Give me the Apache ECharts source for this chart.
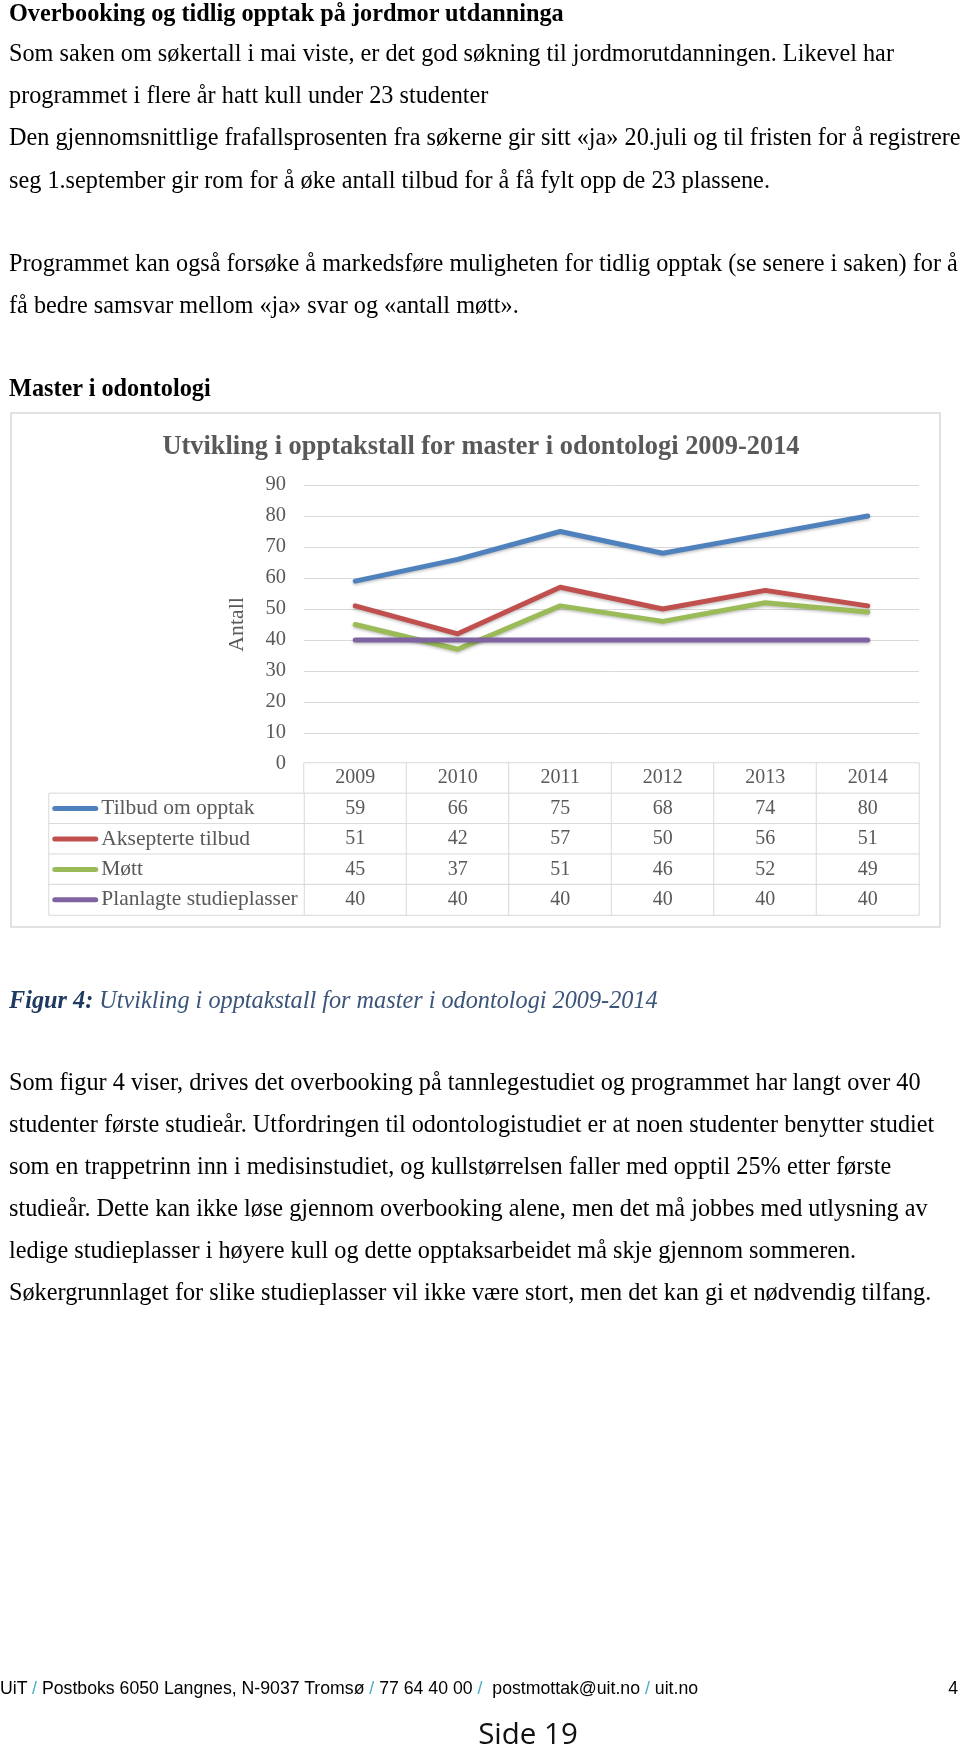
<!DOCTYPE html>
<html><head><meta charset="utf-8">
<script src="https://cdn.jsdelivr.net/npm/echarts@6/dist/echarts.min.js"></script>
<style>
html,body{margin:0;padding:0;background:#fff;}
#page{position:relative;width:960px;height:1747px;overflow:hidden;background:#fff;}
#chart{position:absolute;left:0;top:0;width:960px;height:1747px;}
.t{position:absolute;left:9px;white-space:nowrap;font-family:"Liberation Serif","Times New Roman",serif;font-size:24.25px;color:#000;line-height:28px;}
.b{font-weight:bold;}
.cap{font-style:italic;color:#3b5479;}
.cap b{color:#1f3a60;}
.foot{position:absolute;left:0;top:1677px;white-space:nowrap;font-family:"Liberation Sans",Arial,sans-serif;font-size:17.7px;color:#000;line-height:22px;}
.foot .s{color:#4bacc6;}
.pg{position:absolute;right:2px;top:1677px;font-family:"Liberation Sans",Arial,sans-serif;font-size:17.7px;line-height:22px;}
.side{position:absolute;left:0;width:1056px;text-align:center;top:1715px;font-family:"Open Sans",sans-serif;font-size:29.5px;line-height:36px;color:#111;}
</style></head>
<body><div id="page"><div id="chart"></div>
<div class="t b" style="top:-1px">Overbooking og tidlig opptak på jordmor utdanninga</div>
<div class="t" style="top:39px">Som saken om søkertall i mai viste, er det god søkning til jordmorutdanningen. Likevel har</div>
<div class="t" style="top:81px">programmet i flere år hatt kull under 23 studenter</div>
<div class="t" style="top:123px">Den gjennomsnittlige frafallsprosenten fra søkerne gir sitt «ja» 20.juli og til fristen for å registrere</div>
<div class="t" style="top:166px">seg 1.september gir rom for å øke antall tilbud for å få fylt opp de 23 plassene.</div>
<div class="t" style="top:249px">Programmet kan også forsøke å markedsføre muligheten for tidlig opptak (se senere i saken) for å</div>
<div class="t" style="top:291px">få bedre samsvar mellom «ja» svar og «antall møtt».</div>
<div class="t b" style="top:374px">Master i odontologi</div>
<div class="t cap" style="top:986px"><b>Figur 4:</b> Utvikling i opptakstall for master i odontologi 2009-2014</div>
<div class="t" style="top:1068px">Som figur 4 viser, drives det overbooking på tannlegestudiet og programmet har langt over 40</div>
<div class="t" style="top:1110px">studenter første studieår. Utfordringen til odontologistudiet er at noen studenter benytter studiet</div>
<div class="t" style="top:1152px">som en trappetrinn inn i medisinstudiet, og kullstørrelsen faller med opptil 25% etter første</div>
<div class="t" style="top:1194px">studieår. Dette kan ikke løse gjennom overbooking alene, men det må jobbes med utlysning av</div>
<div class="t" style="top:1236px">ledige studieplasser i høyere kull og dette opptaksarbeidet må skje gjennom sommeren.</div>
<div class="t" style="top:1278px">Søkergrunnlaget for slike studieplasser vil ikke være stort, men det kan gi et nødvendig tilfang.</div>
<div class="foot">UiT <span class="s">/</span> Postboks 6050 Langnes, N-9037 Tromsø <span class="s">/</span> 77 64 40 00 <span class="s">/</span>&nbsp; postmottak@uit.no <span class="s">/</span> uit.no</div>
<div class="pg">4</div>
<div class="side">Side 19</div>
</div>
<script>
const years = ['2009', '2010', '2011', '2012', '2013', '2014'];
const seriesNames = ['Tilbud om opptak', 'Aksepterte tilbud', 'Møtt', 'Planlagte studieplasser'];
const tilbudOmOpptak = [59, 66, 75, 68, 74, 80];
const aksepterteTilbud = [51, 42, 57, 50, 56, 51];
const mott = [45, 37, 51, 46, 52, 49];
const planlagteStudieplasser = [40, 40, 40, 40, 40, 40];
const yAxisMin = 0, yAxisMax = 90, yAxisStep = 10;
const chartTitle = 'Utvikling i opptakstall for master i odontologi 2009-2014';
const yAxisName = 'Antall';

const valueRows = [tilbudOmOpptak, aksepterteTilbud, mott, planlagteStudieplasser];
const colors = ['#4F81BD', '#C0504D', '#9BBB59', '#8064A2'];
const FONT = '"Liberation Serif", "Times New Roman", serif';
const GREY = '#595959';

const tableCells = [];
years.forEach((y, xi) => tableCells.push([xi, 0, Number(y)]));
valueRows.forEach((arr, ri) => arr.forEach((v, xi) => tableCells.push([xi, ri + 1, v])));
const labelCells = seriesNames.map((n, i) => [0, i, i]);

const rich = { t: { color: GREY, fontSize: 21.5, fontFamily: FONT, padding: [0, 0, 0, 3] } };
colors.forEach((c, i) => { rich['m' + i] = { width: 46, height: 5, backgroundColor: c, borderRadius: 3 }; });

const chart = echarts.init(document.getElementById('chart'), null, { renderer: 'canvas' });
chart.setOption({
  animation: false,
  backgroundColor: 'transparent',
  title: {
    text: chartTitle, left: 476, top: 429, textAlign: 'center',
    textStyle: { color: GREY, fontFamily: FONT, fontSize: 26.4, fontWeight: 'bold' }
  },
  graphic: [{
    type: 'rect', silent: true, z: -10,
    shape: { x: 11, y: 413, width: 929, height: 514 },
    style: { fill: null, stroke: '#d9d9d9', lineWidth: 1.5 }
  }],
  grid: [
    { left: 304, top: 485, width: 615, height: 279 },
    { left: 304, top: 763, width: 615, height: 152 },
    { left: 49, top: 793.4, width: 255, height: 121.6 }
  ],
  xAxis: [
    { gridIndex: 0, type: 'category', data: years, boundaryGap: true,
      axisLine: { show: false }, axisTick: { show: false }, axisLabel: { show: false } },
    { gridIndex: 1, type: 'category', data: years, show: false },
    { gridIndex: 2, type: 'category', data: ['label'], show: false }
  ],
  yAxis: [
    { gridIndex: 0, type: 'value', min: yAxisMin, max: yAxisMax, interval: yAxisStep,
      name: yAxisName, nameLocation: 'middle', nameGap: 56,
      nameTextStyle: { color: GREY, fontFamily: FONT, fontSize: 21.8 },
      axisLine: { show: false }, axisTick: { show: false },
      axisLabel: { color: GREY, fontFamily: FONT, fontSize: 20.5, margin: 18 },
      splitLine: { lineStyle: { color: '#d9d9d9', width: 1 } } },
    { gridIndex: 1, type: 'category', data: [''].concat(seriesNames), inverse: true, show: false },
    { gridIndex: 2, type: 'category', data: seriesNames, inverse: true, show: false }
  ],
  series: valueRows.map((arr, i) => ({
    type: 'line', name: seriesNames[i], xAxisIndex: 0, yAxisIndex: 0, data: arr,
    symbol: 'none', z: 3 + i,
    itemStyle: { color: colors[i] },
    lineStyle: { color: colors[i], width: 5, cap: 'round', join: 'round',
      shadowColor: 'rgba(0,0,0,0.25)', shadowBlur: 3, shadowOffsetY: 1.5 }
  })).concat([
    { type: 'heatmap', xAxisIndex: 1, yAxisIndex: 1, data: tableCells, z: 1,
      itemStyle: { color: '#fff', borderColor: '#d9d9d9', borderWidth: 1 },
      label: { show: true, formatter: p => String(p.value[2]), color: GREY, fontFamily: FONT, fontSize: 20 },
      emphasis: { disabled: true } },
    { type: 'heatmap', xAxisIndex: 2, yAxisIndex: 2, data: labelCells, z: 1,
      itemStyle: { color: '#fff', borderColor: '#d9d9d9', borderWidth: 1 },
      label: { show: true, position: 'insideLeft', distance: 4,
        formatter: p => '{m' + p.value[2] + '|}{t|' + seriesNames[p.value[2]] + '}', rich: rich },
      emphasis: { disabled: true } }
  ])
});
</script>
</body></html>
